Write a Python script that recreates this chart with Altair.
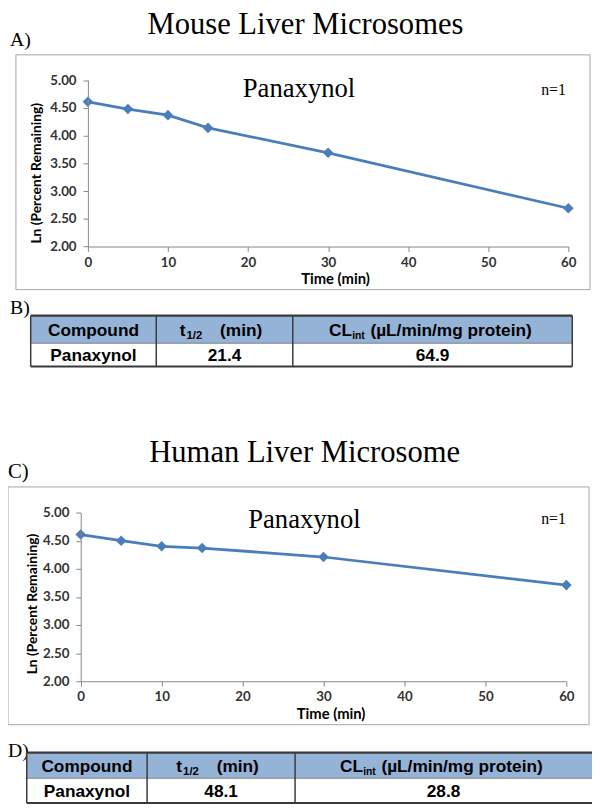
import altair as alt
import pandas as pd

# ---------------- data ----------------
time_min = [0, 5, 10, 15, 30, 60]
mouse_ln = [4.61, 4.48, 4.37, 4.14, 3.69, 2.69]
human_ln = [4.61, 4.50, 4.40, 4.37, 4.21, 3.71]
x_ticks = [0, 10, 20, 30, 40, 50, 60]
y_ticks = [2.0, 2.5, 3.0, 3.5, 4.0, 4.5, 5.0]
x_domain = [0, 60]
y_domain = [2.0, 5.0]

panel_titles = ["Mouse Liver Microsomes", "Human Liver Microsome"]
chart_letters = ["A)", "C)"]
table_letters = ["B)", "D)"]
compound_label = "Panaxynol"
n_label = "n=1"
y_title = "Ln (Percent Remaining)"
x_title = "Time (min)"
hdr_compound = "Compound"
hdr_t_main, hdr_t_sub, hdr_t_unit = "t", "1/2", "(min)"
hdr_cl_main, hdr_cl_sub, hdr_cl_unit = "CL", "int", "(µL/min/mg protein)"
table_compounds = ["Panaxynol", "Panaxynol"]
t_half = ["21.4", "48.1"]
cl_int = ["64.9", "28.8"]

# ---------------- layout / style ----------------
W, H = 592, 802
LINE_COLOR = "#4A7EBB"
BOX_COLOR = "#A6A6A6"
AXIS_COLOR = "#868686"
LABEL_COLOR = "#333333"
HEADER_FILL = "#95B3D7"
TABLE_LINE = "#3A3A3A"
SERIF = "Liberation Serif"
SANS = "Liberation Sans"
AXFONT = "Lato"

PANELS = [
    dict(title=(301.5, 20.5), letter=(2, 33, 20), box=(8, 590, 42, 280),
         xr=(81, 568), yr=(236.3, 67.7), comp=(295, 85), n=(553, 82.7),
         ytitle=(29, 162), xtitle=(332, 274)),
    dict(title=(300.7, 454.3), letter=(0, 471.3, 21), box=(0, 589, 480, 721),
         xr=(73.7, 566), yr=(677, 506), comp=(300.5, 522), n=(553, 518),
         ytitle=(25, 598.7), xtitle=(327.5, 715)),
]
TABLES = [
    dict(letter=(2, 305), xs=(23, 150.3, 288.7, 572), ys=(306.3, 334.3, 358), right=True),
    dict(letter=(0, 753.7), xs=(19, 141, 291, 592), ys=(749.3, 775.3, 800.3), right=False),
]

ONE = pd.DataFrame({"k": [0]})


def text(s, x, y, size, font, weight="normal", align="center",
         baseline="alphabetic", color="black", angle=0):
    return alt.Chart(ONE).mark_text(
        text=s, font=font, fontSize=size, fontWeight=weight, align=align,
        baseline=baseline, color=color, angle=angle
    ).encode(x=alt.value(x), y=alt.value(y))


def rect(x0, x1, y0, y1, fill="transparent", stroke=None, sw=1):
    kw = dict(fill=fill, strokeWidth=sw)
    if stroke:
        kw["stroke"] = stroke
    return alt.Chart(ONE).mark_rect(**kw).encode(
        x=alt.value(x0), x2=alt.value(x1), y=alt.value(y0), y2=alt.value(y1))


def hrule(x0, x1, y, color, sw):
    return alt.Chart(ONE).mark_rule(color=color, strokeWidth=sw).encode(
        x=alt.value(x0), x2=alt.value(x1), y=alt.value(y))


def vrule(x, y0, y1, color, sw):
    return alt.Chart(ONE).mark_rule(color=color, strokeWidth=sw).encode(
        x=alt.value(x), y=alt.value(y0), y2=alt.value(y1))


def line_panel(values, p):
    df = pd.DataFrame({"t": time_min, "v": values})
    common_axis = dict(
        title=None, grid=False, domainColor=AXIS_COLOR, tickColor=AXIS_COLOR,
        tickSize=5, labelFont=AXFONT, labelFontSize=13.5, labelFontWeight="bold",
        labelColor=LABEL_COLOR, labelOverlap=False, labelFlush=False, zindex=1,
    )
    return alt.Chart(df).mark_line(
        color=LINE_COLOR, strokeWidth=2.8,
        point=alt.OverlayMarkDef(shape="diamond", size=115, filled=True,
                                 color=LINE_COLOR, opacity=1),
    ).encode(
        x=alt.X("t:Q",
                scale=alt.Scale(domain=x_domain, range=list(p["xr"]), nice=False, zero=False),
                axis=alt.Axis(orient="bottom", offset=p["yr"][0] - H, values=x_ticks,
                              labelPadding=4, **common_axis)),
        y=alt.Y("v:Q",
                scale=alt.Scale(domain=y_domain, range=list(p["yr"]), nice=False, zero=False),
                axis=alt.Axis(orient="left", offset=-p["xr"][0], values=y_ticks,
                              format=".2f", labelPadding=7, **common_axis)),
    )


layers = []
series = [mouse_ln, human_ln]
for i, p in enumerate(PANELS):
    b = p["box"]
    layers.append(text(panel_titles[i], p["title"][0], p["title"][1], 31, SERIF))
    layers.append(text(chart_letters[i], p["letter"][0], p["letter"][1], p["letter"][2],
                       SERIF, align="left"))
    layers.append(rect(b[0], b[1], b[2], b[3], fill="transparent", stroke=BOX_COLOR, sw=1))
    layers.append(text(compound_label, p["comp"][0], p["comp"][1], 27, SERIF))
    layers.append(text(n_label, p["n"][0], p["n"][1], 16, SERIF))
    layers.append(text(y_title, p["ytitle"][0], p["ytitle"][1], 14, AXFONT, weight="bold",
                       baseline="middle", angle=270))
    layers.append(text(x_title, p["xtitle"][0], p["xtitle"][1], 15, AXFONT, weight="bold"))
    layers.append(line_panel(series[i], p))

for i, t in enumerate(TABLES):
    x0, x1, x2, x3 = t["xs"]
    y0, y1, y2 = t["ys"]
    layers.append(text(table_letters[i], t["letter"][0], t["letter"][1], 20, SERIF, align="left"))
    layers.append(rect(x0, x3, y0, y1, fill=HEADER_FILL))
    layers.append(hrule(x0, x3, y1, "#7F7F7F", 1))
    layers.append(hrule(x0, x3, y0, TABLE_LINE, 2.2))
    layers.append(hrule(x0, x3, y2, TABLE_LINE, 2))
    for xv in (x0, x1, x2):
        layers.append(vrule(xv, y0, y2, TABLE_LINE, 1.5))
    if t["right"]:
        layers.append(vrule(x3, y0, y2, TABLE_LINE, 1.5))
    hb = (y0 + y1) / 2 + 6.3
    db = (y1 + y2) / 2 + 6.2
    c1 = (x0 + x1) / 2
    c2 = (x1 + x2) / 2
    c3 = (x2 + x3) / 2
    fs = 17.5
    # header
    layers.append(text(hdr_compound, c1, hb, fs, SANS, weight="bold"))
    layers.append(text(hdr_t_main, c2 - 45.5, hb, fs, SANS, weight="bold", align="left"))
    layers.append(text(hdr_t_sub, c2 - 38.5, hb + 3.5, 11.5, SANS, weight="bold", align="left"))
    layers.append(text(hdr_t_unit, c2 - 4.5, hb, fs, SANS, weight="bold", align="left"))
    layers.append(text(hdr_cl_main, c3 - 105, hb, fs, SANS, weight="bold", align="left"))
    layers.append(text(hdr_cl_sub, c3 - 81.5, hb + 3, 10.5, SANS, weight="bold", align="left"))
    layers.append(text(hdr_cl_unit, c3 - 63, hb, fs, SANS, weight="bold", align="left"))
    # data row
    layers.append(text(table_compounds[i], c1, db, fs, SANS, weight="bold"))
    layers.append(text(t_half[i], c2, db, fs, SANS, weight="bold"))
    layers.append(text(cl_int[i], c3, db, fs, SANS, weight="bold"))

chart = alt.layer(*layers).resolve_scale(
    x="independent", y="independent"
).properties(
    width=W, height=H, autosize=alt.AutoSizeParams(type="none"), padding=0
).configure_view(stroke=None)

chart.save("out.html", embed_options={"renderer": "svg", "actions": False})
